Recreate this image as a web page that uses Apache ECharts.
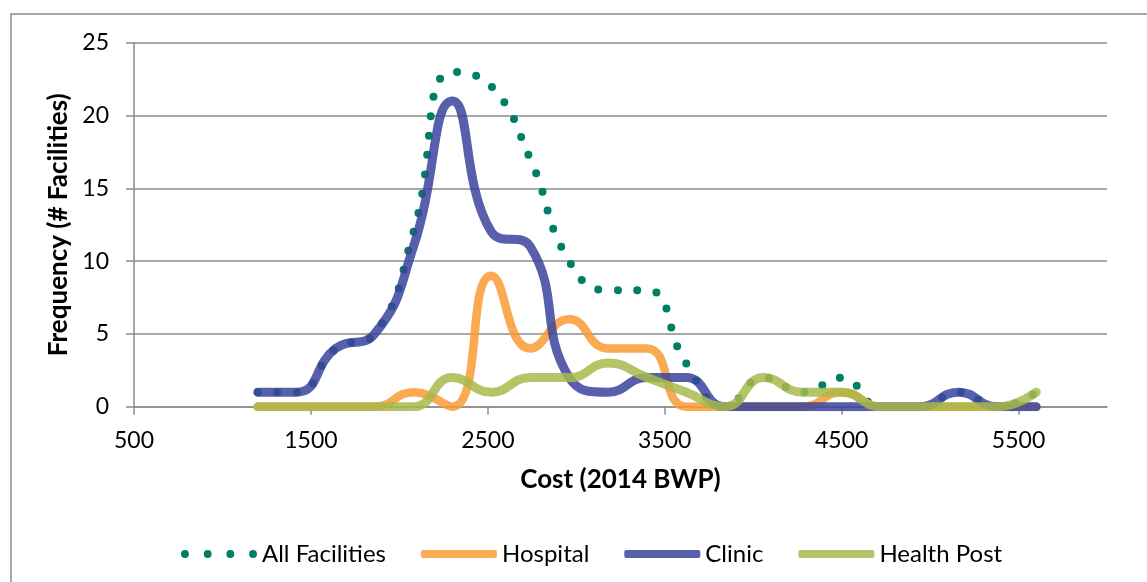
<!DOCTYPE html>
<html>
<head>
<meta charset="utf-8">
<script src="https://cdn.jsdelivr.net/npm/echarts@6/dist/echarts.min.js"></script>
<style>
html,body{margin:0;padding:0;background:#fff;}
#chart{width:1147px;height:582px;}
</style>
</head>
<body>
<div id="chart"></div>
<script>
// Data
const costBins = [1200,1420,1640,1860,2080,2300,2520,2740,2960,3180,3400,3620,3840,4060,4280,4500,4720,4940,5160,5380,5600];
const allFacilities = [1,1,4,5,12,23,22,17,10,8,8,3,0,2,1,2,0,0,1,0,1];
const hospital      = [0,0,0,0,1,0,9,4,6,4,4,0,0,0,0,1,0,0,0,0,0];
const clinic        = [1,1,4,5,11,21,12,11,2,1,2,2,0,0,0,0,0,0,1,0,0];
const healthPost    = [0,0,0,0,0,2,1,2,2,3,2,1,0,2,1,1,0,0,0,0,1];
const xTickLabels = [500,1500,2500,3500,4500,5500];
const yTickLabels = [0,5,10,15,20,25];
const seriesNames = ['All Facilities','Hospital','Clinic','Health Post'];

const pairs = arr => costBins.map((x,i)=>[x, arr[i]]);
const FONT = 'Lato';
const GRID = '#8c8c8c';
const COLORS = ['#007F66','#F99B35','#3B449C','#A8BA4C'];

const chart = echarts.init(document.getElementById('chart'));
const lineSeries = (name, arr, color, width, extra) => Object.assign({
  name, type:'line', data:pairs(arr), smooth:0.5, symbol:'none', showSymbol:false,
  lineStyle:{color, width, cap:'round', join:'round', opacity:0.85},
  itemStyle:{color}, emphasis:{disabled:true}, animation:false
}, extra||{});

// four round dots in a 77 x 8 box for the dotted legend key
const dotsIcon = 'path://M0,4a4,4 0 1,0 8,0a4,4 0 1,0 -8,0Z' +
  'M23,4a4,4 0 1,0 8,0a4,4 0 1,0 -8,0Z' +
  'M46,4a4,4 0 1,0 8,0a4,4 0 1,0 -8,0Z' +
  'M69,4a4,4 0 1,0 8,0a4,4 0 1,0 -8,0Z';

chart.setOption({
  backgroundColor:'#fff',
  animation:false,
  textStyle:{fontFamily:FONT},
  graphic:[{
    type:'rect', silent:true, z:-1,
    shape:{x:11, y:14, width:1200, height:620},
    style:{fill:'none', stroke:GRID, lineWidth:1.5}
  }],
  grid:{left:134, right:40, top:42.7, bottom:175.3, containLabel:false},
  legend:{
    left:176, top:537, itemGap:35, itemWidth:76, itemHeight:8,
    textStyle:{fontFamily:FONT, fontSize:24, color:'#000'},
    data:[
      {name:seriesNames[0], icon:dotsIcon, itemStyle:{color:COLORS[0], opacity:1}},
      {name:seriesNames[1], icon:'roundRect', itemStyle:{color:COLORS[1], opacity:0.85}},
      {name:seriesNames[2], icon:'roundRect', itemStyle:{color:COLORS[2], opacity:0.85}},
      {name:seriesNames[3], icon:'roundRect', itemStyle:{color:COLORS[3], opacity:0.85}}
    ]
  },
  xAxis:{
    type:'value', min:500, max:6000, interval:1000,
    name:'Cost (2014 BWP)', nameLocation:'middle', nameGap:60,
    nameTextStyle:{fontFamily:FONT, fontSize:26, fontWeight:'bold', color:'#000', verticalAlign:'top'},
    axisLine:{show:true, onZero:false, lineStyle:{color:GRID, width:1.5}},
    axisTick:{show:true, length:8, lineStyle:{color:GRID, width:1.5}, customValues:xTickLabels},
    axisLabel:{fontFamily:FONT, fontSize:23, color:'#000', margin:22, customValues:xTickLabels,
      formatter: v => String(v)},
    splitLine:{show:false}
  },
  yAxis:{
    type:'value', min:0, max:25, interval:5,
    name:'Frequency (# Facilities)', nameLocation:'middle', nameGap:58, nameRotate:90,
    nameTextStyle:{fontFamily:FONT, fontSize:26, fontWeight:'bold', color:'#000'},
    axisLine:{show:true, lineStyle:{color:GRID, width:1.5}},
    axisTick:{show:true, length:8, lineStyle:{color:GRID, width:1.5}},
    axisLabel:{fontFamily:FONT, fontSize:23, color:'#000', margin:25,
      formatter: v => yTickLabels.includes(v) ? String(v) : ''},
    splitLine:{show:true, lineStyle:{color:GRID, width:1.5}}
  },
  series:[
    lineSeries(seriesNames[0], allFacilities, COLORS[0], 8, {
      lineStyle:{color:COLORS[0], width:8, type:[0,19.5], cap:'round', join:'round'}
    }),
    lineSeries(seriesNames[1], hospital, COLORS[1], 8.5),
    lineSeries(seriesNames[2], clinic, COLORS[2], 9),
    lineSeries(seriesNames[3], healthPost, COLORS[3], 9)
  ]
});
</script>
</body>
</html>
